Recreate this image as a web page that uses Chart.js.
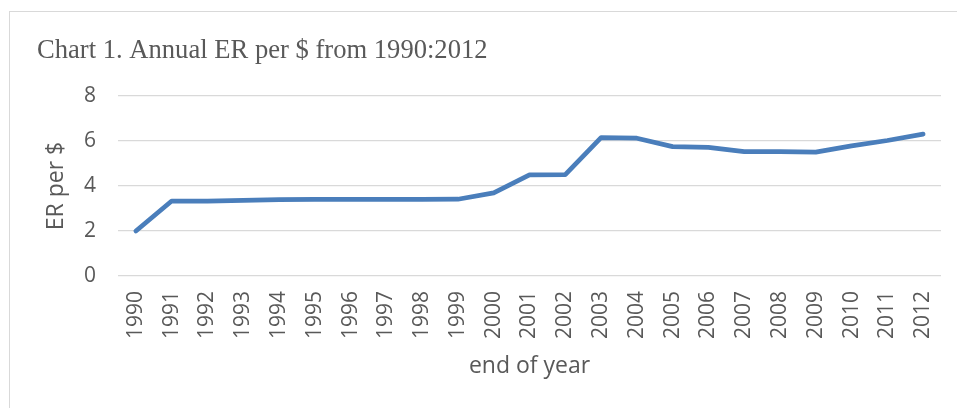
<!DOCTYPE html>
<html>
<head>
<meta charset="utf-8">
<script src="https://cdn.jsdelivr.net/npm/chart.js@4/dist/chart.umd.min.js"></script>
<style>
  html, body { margin: 0; padding: 0; background: #fff; overflow: hidden; }
  #wrap { position: relative; width: 957px; height: 408px; }
  #frame { position: absolute; left: 9px; top: 11px; width: 980px; height: 420px;
           border-left: 1.5px solid #d9d9d9; border-top: 1.5px solid #d9d9d9; pointer-events: none; }
  canvas { position: absolute; left: 0; top: 0; }
</style>
</head>
<body>
<div id="wrap">
  <canvas id="c" width="957" height="408"></canvas>
  <div id="frame"></div>
</div>
<script>
const years = ['1990','1991','1992','1993','1994','1995','1996','1997','1998','1999','2000','2001','2002','2003','2004','2005','2006','2007','2008','2009','2010','2011','2012'];
const erPerDollar = [2.00, 3.33, 3.33, 3.36, 3.39, 3.40, 3.40, 3.40, 3.40, 3.41, 3.69, 4.49, 4.50, 6.15, 6.12, 5.75, 5.71, 5.53, 5.52, 5.50, 5.78, 6.02, 6.30];
const chartTitle = 'Chart 1. Annual ER per $ from 1990:2012';
const xTitle = 'end of year';
const yTitle = 'ER per $';

const textColor = '#595959';
const gridColor = '#d9d9d9';

new Chart(document.getElementById('c'), {
  type: 'line',
  data: {
    labels: years,
    datasets: [{
      data: erPerDollar,
      borderColor: '#4a7ebb',
      borderWidth: 4.75,
      pointRadius: 0,
      tension: 0,
      borderCapStyle: 'round',
      borderJoinStyle: 'round',
      fill: false
    }]
  },
  options: {
    responsive: false,
    animation: false,
    events: [],
    layout: { padding: { left: 37, right: 16, top: 0, bottom: 0 } },
    plugins: {
      legend: { display: false },
      tooltip: { enabled: false },
      title: {
        display: true,
        text: chartTitle,
        align: 'start',
        color: textColor,
        font: { family: '"Liberation Serif", "Times New Roman", serif', size: 26.6, weight: 'normal' },
        padding: { top: 35, bottom: 29 }
      }
    },
    scales: {
      x: {
        offset: true,
        grid: { display: false, drawTicks: false },
        border: { display: false },
        ticks: {
          autoSkip: false, minRotation: 90, maxRotation: 90,
          color: textColor, padding: 15,
          font: { family: '"Open Sans", sans-serif', size: 21 }
        },
        title: {
          display: true, text: xTitle, color: textColor,
          font: { family: '"Open Sans", sans-serif', size: 23 },
          padding: { top: 0, bottom: 28 }
        },
        afterFit: (s) => { s.height = 132; s.paddingRight = 0; s.paddingLeft = 0; }
      },
      y: {
        min: 0, max: 8,
        ticks: {
          stepSize: 2, color: textColor, padding: 22,
          font: { family: '"Open Sans", sans-serif', size: 21 }
        },
        grid: { color: gridColor, lineWidth: 1.3, drawTicks: false },
        border: { display: false },
        title: {
          display: true, text: yTitle, color: textColor,
          font: { family: '"Open Sans", sans-serif', size: 23 },
          padding: { top: 6, bottom: 0 }
        },
        afterFit: (s) => { s.width = 81; }
      }
    }
  }
});
</script>
</body>
</html>
